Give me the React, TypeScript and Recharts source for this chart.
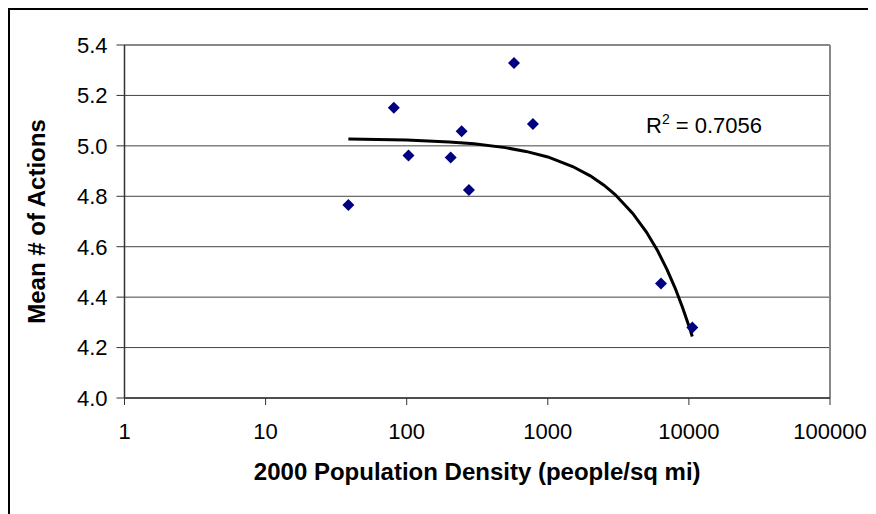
import {
  ScatterChart,
  Scatter,
  XAxis,
  YAxis,
  CartesianGrid,
  ReferenceLine,
  ReferenceDot,
  Label,
} from "recharts";

// Observed points (density, mean # of actions)
const densities = [38.6, 81, 103, 205, 245, 276, 576, 785, 6340, 10570];
const meanActions = [4.765, 5.151, 4.962, 4.954, 5.058, 4.825, 5.329, 5.087, 4.454, 4.28];

// Trendline
const trendX = [38.6, 100, 200, 300, 500, 700, 1000, 1500, 2000, 2500, 3000, 4000, 5000, 6000, 7000, 8000, 9000, 10000, 10570];
const trendY = [5.027, 5.023, 5.015, 5.008, 4.993, 4.978, 4.956, 4.918, 4.881, 4.844, 4.807, 4.732, 4.658, 4.584, 4.509, 4.435, 4.36, 4.286, 4.244];

const xTicks = [1, 10, 100, 1000, 10000, 100000];
const yTicks = [4.0, 4.2, 4.4, 4.6, 4.8, 5.0, 5.2, 5.4];

const rSquared = "0.7056";

const FONT = "'Liberation Sans', Arial, sans-serif";

const points = densities.map((d, i) => ({ x: d, y: meanActions[i] }));
const trend = trendX.map((x, i) => ({ x, y: trendY[i] }));

function Diamond(props: any) {
  const { cx, cy } = props;
  if (cx == null || cy == null) return null;
  const r = 6;
  return (
    <path
      d={`M${cx},${cy - r} L${cx + r},${cy} L${cx},${cy + r} L${cx - r},${cy} Z`}
      fill="#000080"
    />
  );
}

function RLabel({ viewBox }: any) {
  return (
    <text x={viewBox.x} y={viewBox.y} fontSize={22} fontFamily={FONT} fill="#000">
      R
      <tspan dy={-9} fontSize={14}>2</tspan>
      <tspan dy={9}> = {rSquared}</tspan>
    </text>
  );
}

export default function App() {
  return (
    <div
      style={{
        width: 866,
        height: 504,
        borderTop: "2px solid #000",
        borderLeft: "2px solid #000",
        background: "#fff",
        fontFamily: FONT,
      }}
    >
      <ScatterChart
        width={866}
        height={504}
        margin={{ top: 35, right: 46, bottom: 26, left: 0 }}
      >
        <CartesianGrid horizontal vertical={false} stroke="#444" strokeWidth={1} />
        <XAxis
          type="number"
          dataKey="x"
          scale="log"
          domain={[1, 100000]}
          ticks={xTicks}
          allowDataOverflow
          height={90}
          tickSize={7}
          tickMargin={18}
          tickFormatter={(v) => String(v)}
          tick={{ fontSize: 22, fill: "#000", fontFamily: FONT }}
          axisLine={{ stroke: "#333", strokeWidth: 1.5 }}
          tickLine={{ stroke: "#333", strokeWidth: 1 }}
        >
          <Label
            value="2000 Population Density (people/sq mi)"
            position="insideBottom"
            offset={8}
            style={{ fontSize: 24, fontWeight: "bold", fill: "#000", fontFamily: FONT }}
          />
        </XAxis>
        <YAxis
          type="number"
          dataKey="y"
          domain={[4.0, 5.4]}
          ticks={yTicks}
          width={114.5}
          tickSize={8}
          tickMargin={9}
          tickFormatter={(v) => Number(v).toFixed(1)}
          tick={{ fontSize: 22, fill: "#000", fontFamily: FONT }}
          axisLine={{ stroke: "#333", strokeWidth: 1.5 }}
          tickLine={{ stroke: "#333", strokeWidth: 1 }}
        >
          <Label
            value="Mean # of Actions"
            angle={-90}
            position="insideLeft"
            offset={26}
            style={{
              fontSize: 24,
              fontWeight: "bold",
              fill: "#000",
              fontFamily: FONT,
              textAnchor: "middle",
            }}
          />
        </YAxis>
        <ReferenceLine y={5.4} stroke="#888" strokeWidth={2} />
        <ReferenceLine x={100000} stroke="#888" strokeWidth={2} />
        <Scatter
          data={trend}
          line={{ stroke: "#000", strokeWidth: 3 }}
          lineType="joint"
          shape={() => null}
          isAnimationActive={false}
        />
        <Scatter data={points} shape={<Diamond />} isAnimationActive={false} />
        <ReferenceDot x={4966} y={5.051} r={0} stroke="none" label={<RLabel />} />
      </ScatterChart>
    </div>
  );
}
